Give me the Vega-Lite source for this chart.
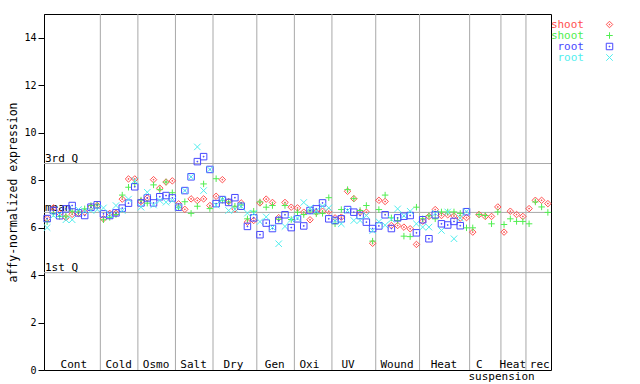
{
  "$schema": "https://vega.github.io/schema/vega-lite/v6.json",
  "width": 507,
  "height": 356,
  "autosize": {"type": "none"},
  "padding": {"left": 44, "top": 14, "right": 89, "bottom": 14},
  "background": "white",
  "config": {
    "view": {"stroke": "black", "strokeWidth": 1},
    "font": "DejaVu Sans Mono",
    "axisY": {
      "tickCount": 8,
      "grid": false,
      "domainColor": "black",
      "tickColor": "black",
      "tickSize": 6,
      "labelPadding": 2,
      "labelFont": "DejaVu Sans Mono",
      "labelFontSize": 10,
      "labelColor": "black",
      "titleFont": "DejaVu Sans Mono",
      "titleFontSize": 11.5,
      "titleFontWeight": "normal",
      "titleColor": "black",
      "titlePadding": 5
    },
    "legend": {
      "orient": "none", "legendX": 500, "legendY": 5, "padding": 0,
      "labelFont": "DejaVu Sans Mono", "labelFontSize": 11, "symbolSize": 42, "symbolStrokeWidth": 1,
      "rowPadding": -1, "labelAlign": "right", "labelOffset": -31, "symbolOffset": 60
    }
  },
  "datasets": {
    "expr": [
      {"i":0,"r":6.38,"g":6.25,"b":6.38,"c":6.0},
      {"i":1,"r":6.83,"g":6.6,"b":6.72,"c":6.51},
      {"i":2,"r":6.6,"g":6.47,"b":6.5,"c":6.55},
      {"i":3,"r":6.42,"g":6.48,"b":6.79,"c":6.33},
      {"i":4,"r":6.56,"g":6.69,"b":6.93,"c":6.33},
      {"i":5,"r":6.6,"g":6.65,"b":6.62,"c":6.76},
      {"i":6,"r":6.65,"g":6.79,"b":6.51,"c":6.7},
      {"i":7,"r":6.86,"g":6.93,"b":6.86,"c":6.72},
      {"i":8,"r":6.93,"g":6.96,"b":6.96,"c":6.76},
      {"i":9,"r":6.37,"g":6.33,"b":6.58,"c":6.83},
      {"i":10,"r":6.6,"g":6.43,"b":6.51,"c":6.55},
      {"i":11,"r":6.6,"g":6.55,"b":6.62,"c":6.93},
      {"i":12,"r":7.2,"g":7.37,"b":6.82,"c":6.72},
      {"i":13,"r":8.05,"g":7.7,"b":7.03,"c":7.2},
      {"i":14,"r":8.05,"g":7.85,"b":7.72,"c":7.98},
      {"i":15,"r":7.1,"g":7.16,"b":7.04,"c":6.86},
      {"i":16,"r":7.25,"g":7.03,"b":7.25,"c":7.49},
      {"i":17,"r":8.02,"g":7.8,"b":7.04,"c":6.95},
      {"i":18,"r":7.66,"g":7.6,"b":7.3,"c":7.14},
      {"i":19,"r":7.92,"g":7.92,"b":7.35,"c":7.07},
      {"i":20,"r":7.97,"g":7.47,"b":7.25,"c":7.14},
      {"i":21,"r":7.0,"g":6.86,"b":6.86,"c":6.86},
      {"i":22,"r":6.77,"g":7.09,"b":7.56,"c":7.56},
      {"i":23,"r":7.21,"g":6.6,"b":8.14,"c":8.14},
      {"i":24,"r":7.14,"g":6.9,"b":8.78,"c":9.4},
      {"i":25,"r":7.21,"g":7.84,"b":8.99,"c":7.56},
      {"i":26,"r":6.93,"g":6.8,"b":8.45,"c":8.45},
      {"i":27,"r":7.32,"g":8.06,"b":7.01,"c":6.95},
      {"i":28,"r":8.02,"g":7.15,"b":7.18,"c":7.18},
      {"i":29,"r":7.1,"g":7.08,"b":7.06,"c":6.72},
      {"i":30,"r":6.79,"g":6.9,"b":7.26,"c":6.77},
      {"i":31,"r":7.04,"g":6.95,"b":6.9,"c":6.9},
      {"i":32,"r":6.23,"g":6.37,"b":6.05,"c":6.61},
      {"i":33,"r":6.3,"g":6.69,"b":6.41,"c":6.6},
      {"i":34,"r":7.04,"g":7.08,"b":5.7,"c":6.25},
      {"i":35,"r":7.2,"g":6.86,"b":6.19,"c":6.45},
      {"i":36,"r":7.06,"g":6.93,"b":5.96,"c":6.0},
      {"i":37,"r":6.42,"g":6.35,"b":6.3,"c":5.32},
      {"i":38,"r":7.06,"g":6.93,"b":6.54,"c":6.05},
      {"i":39,"r":6.86,"g":6.34,"b":6.0,"c":6.35},
      {"i":40,"r":6.83,"g":6.65,"b":6.37,"c":6.4},
      {"i":41,"r":6.65,"g":6.55,"b":6.07,"c":7.06},
      {"i":42,"r":6.33,"g":6.7,"b":6.72,"c":6.83},
      {"i":43,"r":6.65,"g":6.58,"b":6.79,"c":6.7},
      {"i":44,"r":6.69,"g":6.6,"b":7.04,"c":6.9},
      {"i":45,"r":6.69,"g":7.26,"b":6.37,"c":6.83},
      {"i":46,"r":6.41,"g":6.16,"b":6.3,"c":6.3},
      {"i":47,"r":6.44,"g":6.76,"b":6.37,"c":6.16},
      {"i":48,"r":7.53,"g":7.6,"b":6.76,"c":6.72},
      {"i":49,"r":7.22,"g":7.22,"b":6.65,"c":6.3},
      {"i":50,"r":6.65,"g":6.72,"b":6.51,"c":6.3},
      {"i":51,"r":6.65,"g":6.93,"b":6.23,"c":6.51},
      {"i":52,"r":5.34,"g":5.43,"b":5.96,"c":5.87},
      {"i":53,"r":7.15,"g":6.76,"b":6.07,"c":6.25},
      {"i":54,"r":7.1,"g":7.37,"b":6.54,"c":6.1},
      {"i":55,"r":6.09,"g":6.41,"b":5.96,"c":6.35},
      {"i":56,"r":6.09,"g":6.3,"b":6.41,"c":6.79},
      {"i":57,"r":6.02,"g":5.64,"b":6.48,"c":6.5},
      {"i":58,"r":5.95,"g":5.62,"b":6.51,"c":6.69},
      {"i":59,"r":5.29,"g":6.86,"b":5.78,"c":6.16},
      {"i":60,"r":6.27,"g":6.37,"b":6.33,"c":6.02},
      {"i":61,"r":6.47,"g":6.5,"b":5.53,"c":6.02},
      {"i":62,"r":6.76,"g":6.37,"b":6.54,"c":6.6},
      {"i":63,"r":6.51,"g":6.66,"b":6.16,"c":5.88},
      {"i":64,"r":6.54,"g":6.66,"b":6.11,"c":6.66},
      {"i":65,"r":6.49,"g":6.66,"b":6.26,"c":5.53},
      {"i":66,"r":6.4,"g":6.6,"b":6.08,"c":6.4},
      {"i":67,"r":6.42,"g":5.99,"b":6.67,"c":6.67},
      {"i":68,"r":5.81,"g":5.99},
      {"i":69,"r":6.55,"g":6.55},
      {"i":70,"r":6.47,"g":6.51},
      {"i":71,"r":6.47,"g":6.16},
      {"i":72,"r":6.87,"g":6.66},
      {"i":73,"r":5.81,"g":6.13},
      {"i":74,"r":6.69,"g":6.37},
      {"i":75,"r":6.55,"g":6.26},
      {"i":76,"r":6.47,"g":6.26},
      {"i":77,"r":6.8,"g":6.16},
      {"i":78,"r":7.15,"g":7.08},
      {"i":79,"r":7.15,"g":6.87},
      {"i":80,"r":7.01,"g":6.64}
    ],
    "seps": [
      {"b":8.5},{"b":14.5},{"b":20.5},{"b":26.5},{"b":33.5},{"b":39.5},
      {"b":45.5},{"b":52.5},{"b":59.5},{"b":67.5},{"b":72.5},{"b":76.5}
    ],
    "quart": [
      {"q":8.7,"t":"3rd Q"},
      {"q":6.64,"t":"mean"},
      {"q":4.1,"t":"1st Q"}
    ],
    "cats": [
      {"p":4.26,"t":"Cont"},
      {"p":11.43,"t":"Cold"},
      {"p":17.4,"t":"Osmo"},
      {"p":23.4,"t":"Salt"},
      {"p":29.75,"t":"Dry"},
      {"p":36.36,"t":"Gen"},
      {"p":41.9,"t":"Oxi"},
      {"p":48.07,"t":"UV"},
      {"p":55.9,"t":"Wound"},
      {"p":63.4,"t":"Heat"},
      {"p":69.06,"t":"C"},
      {"p":74.4,"t":"Heat"},
      {"p":78.7,"t":"rec"}
    ],
    "sub": [
      {"p":72.6,"t":"suspension"}
    ]
  },
  "layer": [
    {
      "data": {"name": "seps"},
      "mark": {"type": "rule", "color": "#a8a8a8", "strokeWidth": 1},
      "encoding": {
        "x": {"field": "b", "type": "quantitative", "scale": {"domain": [-0.5, 80.5], "nice": false, "zero": false}, "axis": null}
      }
    },
    {
      "data": {"name": "quart"},
      "mark": {"type": "rule", "color": "#a8a8a8", "strokeWidth": 1},
      "encoding": {
        "y": {"field": "q", "type": "quantitative", "scale": {"domain": [0, 15], "nice": false}, "title": "affy-normalized expression"}
      }
    },
    {
      "data": {"name": "quart"},
      "mark": {"type": "text", "align": "left", "baseline": "alphabetic", "dx": 1, "dy": -1.5, "font": "DejaVu Sans Mono", "fontSize": 11, "color": "black"},
      "encoding": {
        "x": {"datum": -0.5, "type": "quantitative", "axis": null},
        "y": {"field": "q", "type": "quantitative", "title": "affy-normalized expression"},
        "text": {"field": "t"}
      }
    },
    {
      "data": {"name": "cats"},
      "mark": {"type": "text", "align": "center", "baseline": "alphabetic", "dy": -2.5, "font": "DejaVu Sans Mono", "fontSize": 11, "color": "black"},
      "encoding": {
        "x": {"field": "p", "type": "quantitative", "axis": null},
        "y": {"datum": 0, "type": "quantitative", "title": "affy-normalized expression"},
        "text": {"field": "t"}
      }
    },
    {
      "data": {"name": "sub"},
      "mark": {"type": "text", "align": "center", "baseline": "alphabetic", "dy": 9.5, "font": "DejaVu Sans Mono", "fontSize": 11, "color": "black", "clip": false},
      "encoding": {
        "x": {"field": "p", "type": "quantitative", "axis": null},
        "y": {"datum": 0, "type": "quantitative", "title": "affy-normalized expression"},
        "text": {"field": "t"}
      }
    },
    {
      "data": {"name": "expr"},
      "transform": [
        {"fold": ["r", "g", "b", "c"], "as": ["s", "v"]},
        {"filter": "isValid(datum.v)"}
      ],
      "mark": {"type": "point", "filled": false, "strokeWidth": 1, "size": 42, "opacity": 1},
      "encoding": {
        "x": {"field": "i", "type": "quantitative", "axis": null},
        "y": {"field": "v", "type": "quantitative", "title": "affy-normalized expression"},
        "color": {
          "field": "s", "type": "nominal",
          "scale": {"domain": ["r", "g", "b", "c"], "range": ["#ff5050", "#50ee50", "#4848ff", "#50eeee"]},
          "legend": {
            "title": null,
            "labelExpr": "datum.label == 'r' || datum.label == 'g' ? 'shoot' : 'root'",
            "labelColor": {"expr": "scale('color', datum.value)"}
          }
        },
        "shape": {
          "field": "s", "type": "nominal",
          "scale": {"domain": ["r", "g", "b", "c"], "range": [
            "M0,-1L1,0L0,1L-1,0ZM-0.12,-0.12H0.12V0.12H-0.12Z",
            "M-1,0H1M0,-1V1",
            "M-1,-1H1V1H-1ZM-0.12,-0.12H0.12V0.12H-0.12Z",
            "M-1,-1L1,1M-1,1L1,-1"
          ]},
          "legend": {
            "title": null,
            "labelExpr": "datum.label == 'r' || datum.label == 'g' ? 'shoot' : 'root'",
            "labelColor": {"expr": "scale('color', datum.value)"}
          }
        }
      }
    }
  ]
}
